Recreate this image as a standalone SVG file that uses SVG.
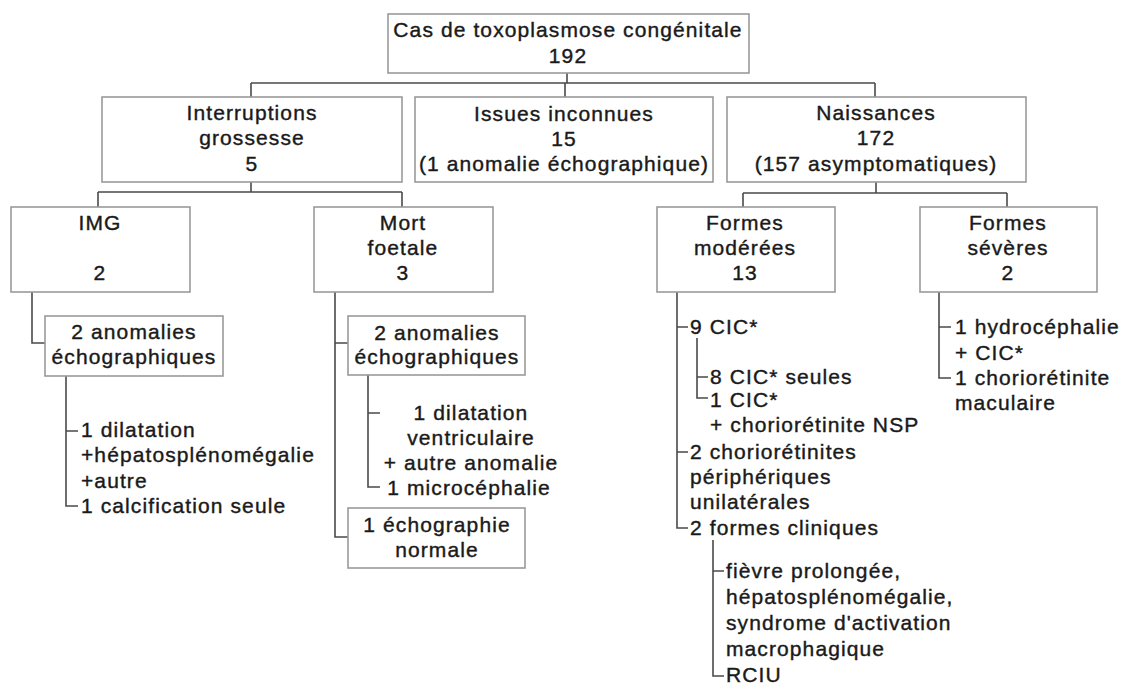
<svg xmlns="http://www.w3.org/2000/svg" width="1125" height="684" viewBox="0 0 1125 684">
<style>
.box{fill:#fff;stroke:#9a9a9a;stroke-width:1.6}
.ln{fill:none;stroke:#4a4a4a;stroke-width:1.6}
text{font-family:"Liberation Sans",Arial,sans-serif;font-size:21px;letter-spacing:1.1px;fill:#1a1a1a;stroke:#1a1a1a;stroke-width:0.4px}
.c{text-anchor:middle}
</style>
<rect width="1125" height="684" fill="#fff"/>
<g id="connectors">
<path class="ln" d="M567,73V83M251,83H875M251,83V97M565,83V97M875,83V97"/>
<path class="ln" d="M251,182V192M98,192H402M98,192V207M402,192V207"/>
<path class="ln" d="M876,182V193M743,193H1007M743,193V207M1007,193V207"/>
<path class="ln" d="M32,292V343H45"/>
<path class="ln" d="M66,376V506H78M66,431H78"/>
<path class="ln" d="M335,292V537H348M335,343H348"/>
<path class="ln" d="M368,375V487H380M368,413H380"/>
<path class="ln" d="M677,292V528H688M677,327H688M677,452H688"/>
<path class="ln" d="M697,338V398H708M697,377H708"/>
<path class="ln" d="M713,540V676H724M713,571H724"/>
<path class="ln" d="M939,292V378H951M939,327H951"/>
</g>
<g id="root">
<rect class="box" x="388" y="14" width="361" height="59"/>
<text class="c" x="568" y="37">Cas de toxoplasmose congénitale</text>
<text class="c" x="568" y="63">192</text>
</g>
<g id="interruptions">
<rect class="box" x="102" y="97" width="300" height="85"/>
<text class="c" x="252" y="120">Interruptions</text>
<text class="c" x="252" y="145">grossesse</text>
<text class="c" x="252" y="171">5</text>
</g>
<g id="issues">
<rect class="box" x="415" y="97" width="298" height="85"/>
<text class="c" x="564" y="121">Issues inconnues</text>
<text class="c" x="564" y="146">15</text>
<text class="c" x="564" y="171">(1 anomalie échographique)</text>
</g>
<g id="naissances">
<rect class="box" x="727" y="97" width="299" height="85"/>
<text class="c" x="876" y="120">Naissances</text>
<text class="c" x="876" y="145">172</text>
<text class="c" x="876" y="171">(157 asymptomatiques)</text>
</g>
<g id="img">
<rect class="box" x="11" y="207" width="179" height="85"/>
<text class="c" x="100" y="230">IMG</text>
<text class="c" x="100" y="280">2</text>
</g>
<g id="mort">
<rect class="box" x="314" y="207" width="179" height="85"/>
<text class="c" x="403" y="230">Mort</text>
<text class="c" x="403" y="255">foetale</text>
<text class="c" x="403" y="280">3</text>
</g>
<g id="moderees">
<rect class="box" x="657" y="207" width="178" height="85"/>
<text class="c" x="745" y="230">Formes</text>
<text class="c" x="745" y="255">modérées</text>
<text class="c" x="745" y="280">13</text>
</g>
<g id="severes">
<rect class="box" x="920" y="207" width="177" height="85"/>
<text class="c" x="1008" y="230">Formes</text>
<text class="c" x="1008" y="255">sévères</text>
<text class="c" x="1008" y="280">2</text>
</g>
<g id="img-anomalies">
<rect class="box" x="45" y="316" width="178" height="60"/>
<text class="c" x="134" y="339">2 anomalies</text>
<text class="c" x="134" y="364">échographiques</text>
</g>
<g id="img-details">
<text x="81" y="437">1 dilatation</text>
<text x="81" y="462">+hépatosplénomégalie</text>
<text x="81" y="488">+autre</text>
<text x="81" y="513">1 calcification seule</text>
</g>
<g id="mort-anomalies">
<rect class="box" x="348" y="316" width="177" height="59"/>
<text class="c" x="437" y="340">2 anomalies</text>
<text class="c" x="437" y="364">échographiques</text>
</g>
<g id="mort-details">
<text class="c" x="471" y="420">1 dilatation</text>
<text class="c" x="471" y="445">ventriculaire</text>
<text class="c" x="471" y="470">+ autre anomalie</text>
<text class="c" x="469" y="495">1 microcéphalie</text>
</g>
<g id="mort-normale">
<rect class="box" x="348" y="508" width="177" height="60"/>
<text class="c" x="437" y="532">1 échographie</text>
<text class="c" x="437" y="557">normale</text>
</g>
<g id="moderees-details">
<text x="690" y="334">9 CIC*</text>
<text x="710" y="384">8 CIC* seules</text>
<text x="710" y="407">1 CIC*</text>
<text x="710" y="432">+ choriorétinite NSP</text>
<text x="690" y="459">2 choriorétinites</text>
<text x="690" y="484">périphériques</text>
<text x="690" y="509">unilatérales</text>
<text x="690" y="535">2 formes cliniques</text>
</g>
<g id="formes-cliniques-details">
<text x="726" y="578">fièvre prolongée,</text>
<text x="726" y="604">hépatosplénomégalie,</text>
<text x="726" y="630">syndrome d'activation</text>
<text x="726" y="656">macrophagique</text>
<text x="726" y="682">RCIU</text>
</g>
<g id="severes-details">
<text x="955" y="334">1 hydrocéphalie</text>
<text x="955" y="360">+ CIC*</text>
<text x="955" y="385">1 choriorétinite</text>
<text x="955" y="410">maculaire</text>
</g>
</svg>
